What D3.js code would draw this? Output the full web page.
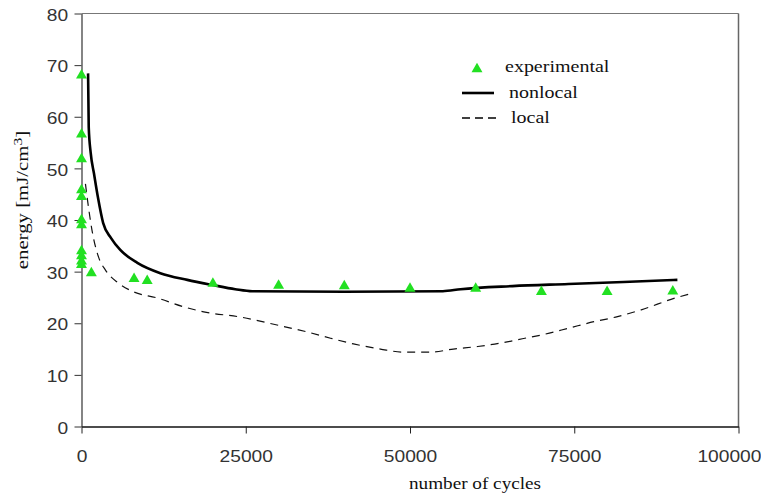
<!DOCTYPE html>
<html>
<head>
<meta charset="utf-8">
<script src="https://cdn.jsdelivr.net/npm/d3@7"></script>
<style>
  body { margin: 0; background: #fff; }
</style>
</head>
<body>
<div id="chart"></div>
<script>
// experimental points (number of cycles, energy)
var expCycles = [0, 0, 0, 0, 0, 0, 0, 0, 0, 0, 0, 1500, 8000, 10000, 20000, 30000, 40000, 50000, 60000, 70000, 80000, 90000];
var expEnergy = [68, 56.6, 51.8, 45.8, 44.5, 40, 39, 34, 33, 32, 31.3, 29.7, 28.6, 28.2, 27.7, 27.3, 27.2, 26.7, 26.7, 26.1, 26.1, 26.2];

// nonlocal model (solid)
var nonlocalCycles = [1000, 1100, 1400, 1900, 2500, 3300, 4500, 5900, 8500, 12000, 16100, 20000, 23400, 26000, 40000, 55000, 57700, 65600, 74100, 82500, 90700];
var nonlocalEnergy = [68.4, 58, 53, 49, 44.4, 39.4, 36.5, 34.2, 31.7, 29.7, 28.4, 27.4, 26.6, 26.2, 26.1, 26.2, 26.6, 27.2, 27.6, 28.0, 28.4];

// local model (dashed)
var localCycles = [600, 900, 1600, 2600, 3650, 5600, 7900, 11500, 15500, 18600, 24200, 30300, 34400, 37900, 41400, 45500, 49000, 53100, 56600, 60300, 64000, 67100, 70600, 74300, 78000, 81300, 85200, 90400, 92700];
var localEnergy = [47, 44, 38, 32.8, 30.3, 27.8, 26.1, 24.9, 23.2, 22.2, 21.2, 19.5, 18.3, 17.1, 16.0, 15.0, 14.4, 14.4, 15.0, 15.5, 16.2, 17.0, 17.9, 19.1, 20.3, 21.2, 22.6, 24.9, 25.7];

var xTicks = [0, 25000, 50000, 75000, 100000];
var yTicks = [0, 10, 20, 30, 40, 50, 60, 70, 80];

var width = 761, height = 494;
var serif = "'Liberation Serif', 'Times New Roman', serif";
var sans = "'Liberation Sans', Arial, sans-serif";

var svg = d3.select("#chart")
  .append("svg")
  .attr("width", width)
  .attr("height", height);

var x = d3.scaleLinear().domain([0, 100000]).range([81.5, 738.5]);
var y = d3.scaleLinear().domain([0, 80]).range([426.5, 13.5]);

// frame (top + right)
svg.append("line")
  .attr("x1", x(0)).attr("x2", x(100000))
  .attr("y1", y(80)).attr("y2", y(80))
  .attr("stroke", "#777").attr("stroke-width", 1);
svg.append("line")
  .attr("x1", x(100000)).attr("x2", x(100000))
  .attr("y1", y(80)).attr("y2", y(0))
  .attr("stroke", "#666").attr("stroke-width", 1.5);

// axes
var xAxis = svg.append("g")
  .attr("transform", "translate(0," + y(0) + ")")
  .call(d3.axisBottom(x).tickValues(xTicks).tickSize(7).tickSizeOuter(0).tickPadding(17.5).tickFormat(d3.format("d")));
xAxis.select(".domain").attr("stroke", "#111").attr("stroke-width", 1.3);
xAxis.selectAll(".tick line").attr("stroke", "#222");
xAxis.selectAll(".tick text")
  .attr("font-family", sans).attr("font-size", 16).attr("fill", "#333")
  .attr("transform", "scale(1.2,1)")
  .filter(function(d) { return d === 100000; })
  .attr("dx", -8);

var yAxis = svg.append("g")
  .attr("transform", "translate(" + x(0) + ",0)")
  .call(d3.axisLeft(y).tickValues(yTicks).tickSize(7).tickSizeOuter(0).tickPadding(4.2));
yAxis.select(".domain").attr("stroke", "#333").attr("stroke-width", 1.2);
yAxis.selectAll(".tick line").attr("stroke", "#333");
yAxis.selectAll(".tick text")
  .attr("font-family", sans).attr("font-size", 16).attr("fill", "#333")
  .attr("dy", "0.42em")
  .attr("transform", "scale(1.2,1)");

// lines
var localData = localCycles.map(function(c, i) { return [c, localEnergy[i]]; });
var nonlocalData = nonlocalCycles.map(function(c, i) { return [c, nonlocalEnergy[i]]; });

var line = d3.line()
  .x(function(d) { return x(d[0]); })
  .y(function(d) { return y(d[1]); })
  .curve(d3.curveMonotoneX);

svg.append("path")
  .datum(localData)
  .attr("d", line)
  .attr("fill", "none")
  .attr("stroke", "#111")
  .attr("stroke-width", 1.2)
  .attr("stroke-dasharray", "8,6");

svg.append("path")
  .datum(nonlocalData)
  .attr("d", line)
  .attr("fill", "none")
  .attr("stroke", "#000")
  .attr("stroke-width", 2.6);

// experimental triangles
var tri = d3.symbol().type(d3.symbolTriangle).size(52);
svg.selectAll(".pt")
  .data(expCycles.map(function(c, i) { return [c, expEnergy[i]]; }))
  .enter().append("path")
  .attr("class", "pt")
  .attr("d", tri)
  .attr("transform", function(d) { return "translate(" + x(d[0]) + "," + y(d[1]) + ")"; })
  .attr("fill", "#22e022");

// legend
var legend = svg.append("g");
legend.append("path")
  .attr("d", tri)
  .attr("transform", "translate(477,69)")
  .attr("fill", "#22e022");
legend.append("line")
  .attr("x1", 462).attr("x2", 494).attr("y1", 93).attr("y2", 93)
  .attr("stroke", "#000").attr("stroke-width", 2.6);
legend.append("line")
  .attr("x1", 462).attr("x2", 496).attr("y1", 118).attr("y2", 118)
  .attr("stroke", "#000").attr("stroke-width", 1.4)
  .attr("stroke-dasharray", "8,5");

var legendText = [["experimental", 505, 72], ["nonlocal", 509, 98], ["local", 511, 122.5]];
legend.selectAll("text")
  .data(legendText)
  .enter().append("text")
  .attr("transform", function(d) { return "translate(" + d[1] + "," + d[2] + ") scale(1.25,1)"; })
  .attr("font-family", serif)
  .attr("font-size", 16)
  .attr("fill", "#111")
  .text(function(d) { return d[0]; });

// axis titles
svg.append("text")
  .attr("transform", "translate(475,489) scale(1.2,1)")
  .attr("text-anchor", "middle")
  .attr("font-family", serif)
  .attr("font-size", 16)
  .attr("fill", "#111")
  .text("number of cycles");

var yTitle = svg.append("text")
  .attr("transform", "translate(28,200) rotate(-90) scale(1.3,1)")
  .attr("text-anchor", "middle")
  .attr("font-family", serif)
  .attr("font-size", 16)
  .attr("fill", "#111");
yTitle.append("tspan").text("energy [mJ/cm");
yTitle.append("tspan").attr("dy", -6).attr("font-size", 12).text("3");
yTitle.append("tspan").attr("dy", 6).text("]");
</script>
</body>
</html>
